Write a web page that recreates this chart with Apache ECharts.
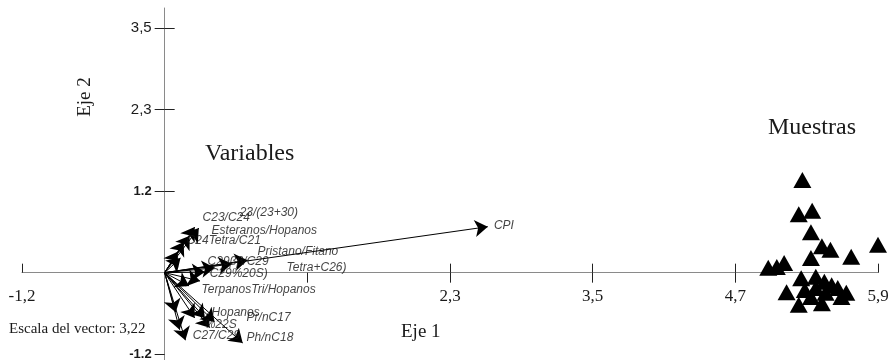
<!DOCTYPE html>
<html>
<head>
<meta charset="utf-8">
<script src="https://cdn.jsdelivr.net/npm/echarts@6/dist/echarts.min.js"></script>
<style>html,body{margin:0;padding:0;background:#fff;}#c{width:889px;height:360px;}</style>
</head>
<body>
<div id="c"></div>
<script>
// ---- data ----
const xTickValues = [-1.17, 1.17, 2.34, 3.51, 4.68, 5.85];
const xTickLabels = ['-1,2', '', '2,3', '3,5', '4,7', '5,9'];
const yTickValues = [-1.17, 1.17, 2.34, 3.51];
const yTickLabels = ['-1.2', '1.2', '2,3', '3,5'];

// vector (arrow) tips, Eje 1 / Eje 2
const vecX = [2.65, 0.246, 0.28, 0.205, 0.156, 0.107, 0.13, 0.68, 0.55, 0.41, 0.33, 0.29, 0.20, 0.09, 0.246, 0.33, 0.41, 0.37, 0.17, 0.64, 0.123];
const vecY = [0.66, 0.654, 0.64, 0.53, 0.44, 0.30, 0.21, 0.18, 0.125, 0.07, 0.01, -0.12, -0.19, -0.57, -0.65, -0.65, -0.71, -0.79, -0.97, -1.01, -0.82];

// vector labels and their anchor points
const vecLabels = ['CPI', 'C23/C24', '23/(23+30)', 'Esteranos/Hopanos', 'C24Tetra/C21', 'Pristano/Fitano', 'C29ββ/C29', 'Tetra+C26)', 'C29%20S)', 'TerpanosTri/Hopanos', 'Hopanos', 'Pr/nC17', '%22S', 'C27/C29', 'Ph/nC18'];
const vecLabelX = [2.70, 0.311, 0.615, 0.385, 0.18, 0.762, 0.352, 1.00, 0.369, 0.303, 0.385, 0.672, 0.328, 0.23, 0.672];
const vecLabelY = [0.68, 0.783, 0.858, 0.599, 0.455, 0.297, 0.154, 0.068, -0.019, -0.25, -0.58, -0.64, -0.75, -0.91, -0.94];

// samples (Muestras)
const sampX = [5.23, 5.20, 5.31, 5.30, 5.39, 5.46, 5.30, 5.63, 5.85, 4.95, 5.02, 5.08, 5.10, 5.22, 5.34, 5.41, 5.47, 5.52, 5.59, 5.55, 5.20, 5.39, 5.30, 5.25, 5.34, 5.42];
const sampY = [1.33, 0.84, 0.89, 0.58, 0.38, 0.33, 0.21, 0.23, 0.40, 0.07, 0.08, 0.14, -0.28, -0.08, -0.06, -0.13, -0.18, -0.22, -0.29, -0.35, -0.46, -0.44, -0.35, -0.25, -0.22, -0.29];

// ---- chart ----
function lookup(vals, labs, v) {
  for (let i = 0; i < vals.length; i++) if (Math.abs(vals[i] - v) < 1e-6) return labs[i];
  return '';
}
const chart = echarts.init(document.getElementById('c'));
const axisLineStyle = { color: '#8a8a8a', width: 1 };
const tickStyle = { color: '#222', width: 1 };
const xMin = -1.17, xMax = 5.85, yMin = -1.254, yMax = 3.80;
const G = { left: 22, right: 11, top: 8, bottom: 0 };

const option = {
  animation: false,
  backgroundColor: '#fff',
  grid: Object.assign({ containLabel: false, outerBoundsMode: 'none' }, G),
  xAxis: [
    {
      type: 'value', min: xMin, max: xMax, position: 'bottom',
      axisLine: { show: true, onZero: false, lineStyle: axisLineStyle },
      axisTick: { show: true, inside: true, length: 9, lineStyle: tickStyle, customValues: [-1.17, 2.34, 3.51, 4.68, 5.85] },
      axisLabel: {
        show: true, customValues: xTickValues, margin: 15,
        fontFamily: 'Liberation Serif', fontSize: 17, color: '#1a1a1a',
        formatter: v => lookup(xTickValues, xTickLabels, v)
      },
      splitLine: { show: false }
    },
    {
      type: 'value', min: xMin, max: xMax, position: 'bottom',
      axisLine: { show: false, onZero: false },
      axisTick: { show: true, inside: false, length: 10, lineStyle: tickStyle, customValues: [1.17, 2.34, 3.51, 4.68] },
      axisLabel: { show: false },
      splitLine: { show: false }
    }
  ],
  yAxis: [
    {
      type: 'value', min: yMin, max: yMax, position: 'left',
      axisLine: { show: true, onZero: false, lineStyle: axisLineStyle },
      axisTick: { show: true, inside: false, length: 10, lineStyle: tickStyle, customValues: yTickValues },
      axisLabel: {
        show: true, customValues: yTickValues, margin: 13, color: '#1a1a1a',
        fontFamily: 'Liberation Sans',
        formatter: v => {
          const s = lookup(yTickValues, yTickLabels, v);
          return s.indexOf('.') >= 0 ? '{s|' + s + '}' : '{b|' + s + '}';
        },
        rich: {
          s: { fontFamily: 'Liberation Sans', fontSize: 13, fontWeight: 'bold', color: '#1a1a1a' },
          b: { fontFamily: 'Liberation Sans', fontSize: 15, color: '#1a1a1a' }
        }
      },
      splitLine: { show: false }
    },
    {
      type: 'value', min: yMin, max: yMax, position: 'left',
      axisLine: { show: false, onZero: false },
      axisTick: { show: true, inside: true, length: 10, lineStyle: tickStyle, customValues: [1.17, 2.34, 3.51] },
      axisLabel: { show: false },
      splitLine: { show: false }
    }
  ],
  graphic: [
    { type: 'text', left: 205, top: 142, style: { text: 'Variables', font: '24px "Liberation Serif"', fill: '#1a1a1a' } },
    { type: 'text', left: 768, top: 116, style: { text: 'Muestras', font: '24px "Liberation Serif"', fill: '#1a1a1a' } },
    { type: 'text', left: 401, top: 323, style: { text: 'Eje 1', font: '19px "Liberation Serif"', fill: '#1a1a1a' } },
    { type: 'text', x: 85, y: 97, rotation: Math.PI / 2, style: { text: 'Eje 2', font: '19px "Liberation Serif"', fill: '#1a1a1a', align: 'center', verticalAlign: 'middle' } },
    { type: 'text', left: 9, top: 322, style: { text: 'Escala del vector: 3,22', font: '15px "Liberation Serif"', fill: '#1a1a1a' } }
  ],
  series: [
    {
      type: 'lines', coordinateSystem: 'cartesian2d', xAxisIndex: 0, yAxisIndex: 0,
      symbol: ['none', 'arrow'], symbolSize: 13,
      lineStyle: { color: '#000', width: 1, opacity: 1 },
      z: 3,
      data: vecX.map((x, i) => ({ coords: [[0, 0], [x, vecY[i]]] }))
    },
    {
      type: 'scatter', xAxisIndex: 0, yAxisIndex: 0, symbolSize: 0, z: 4,
      label: {
        show: true, position: 'right', distance: 0,
        fontFamily: 'Liberation Sans', fontStyle: 'italic', fontSize: 12, color: '#111',
        formatter: p => vecLabels[p.dataIndex]
      },
      data: vecLabelX.map((x, i) => [x, vecLabelY[i]])
    },
    {
      type: 'scatter', xAxisIndex: 0, yAxisIndex: 0,
      symbol: 'triangle', symbolSize: [18, 16], z: 5,
      itemStyle: { color: '#000', opacity: 1 },
      data: sampX.map((x, i) => [x, sampY[i]])
    }
  ]
};
chart.setOption(option);

// move the axes so that they cross at the origin (0, 0)
const p0 = chart.convertToPixel({ gridIndex: 0 }, [0, 0]);
const H = chart.getHeight();
const xOff = -(H - G.bottom - p0[1]);
const yOff = -(p0[0] - G.left);
chart.setOption({
  xAxis: [{ offset: xOff }, { offset: xOff }],
  yAxis: [{ offset: yOff }, { offset: yOff }]
});
</script>
</body>
</html>
